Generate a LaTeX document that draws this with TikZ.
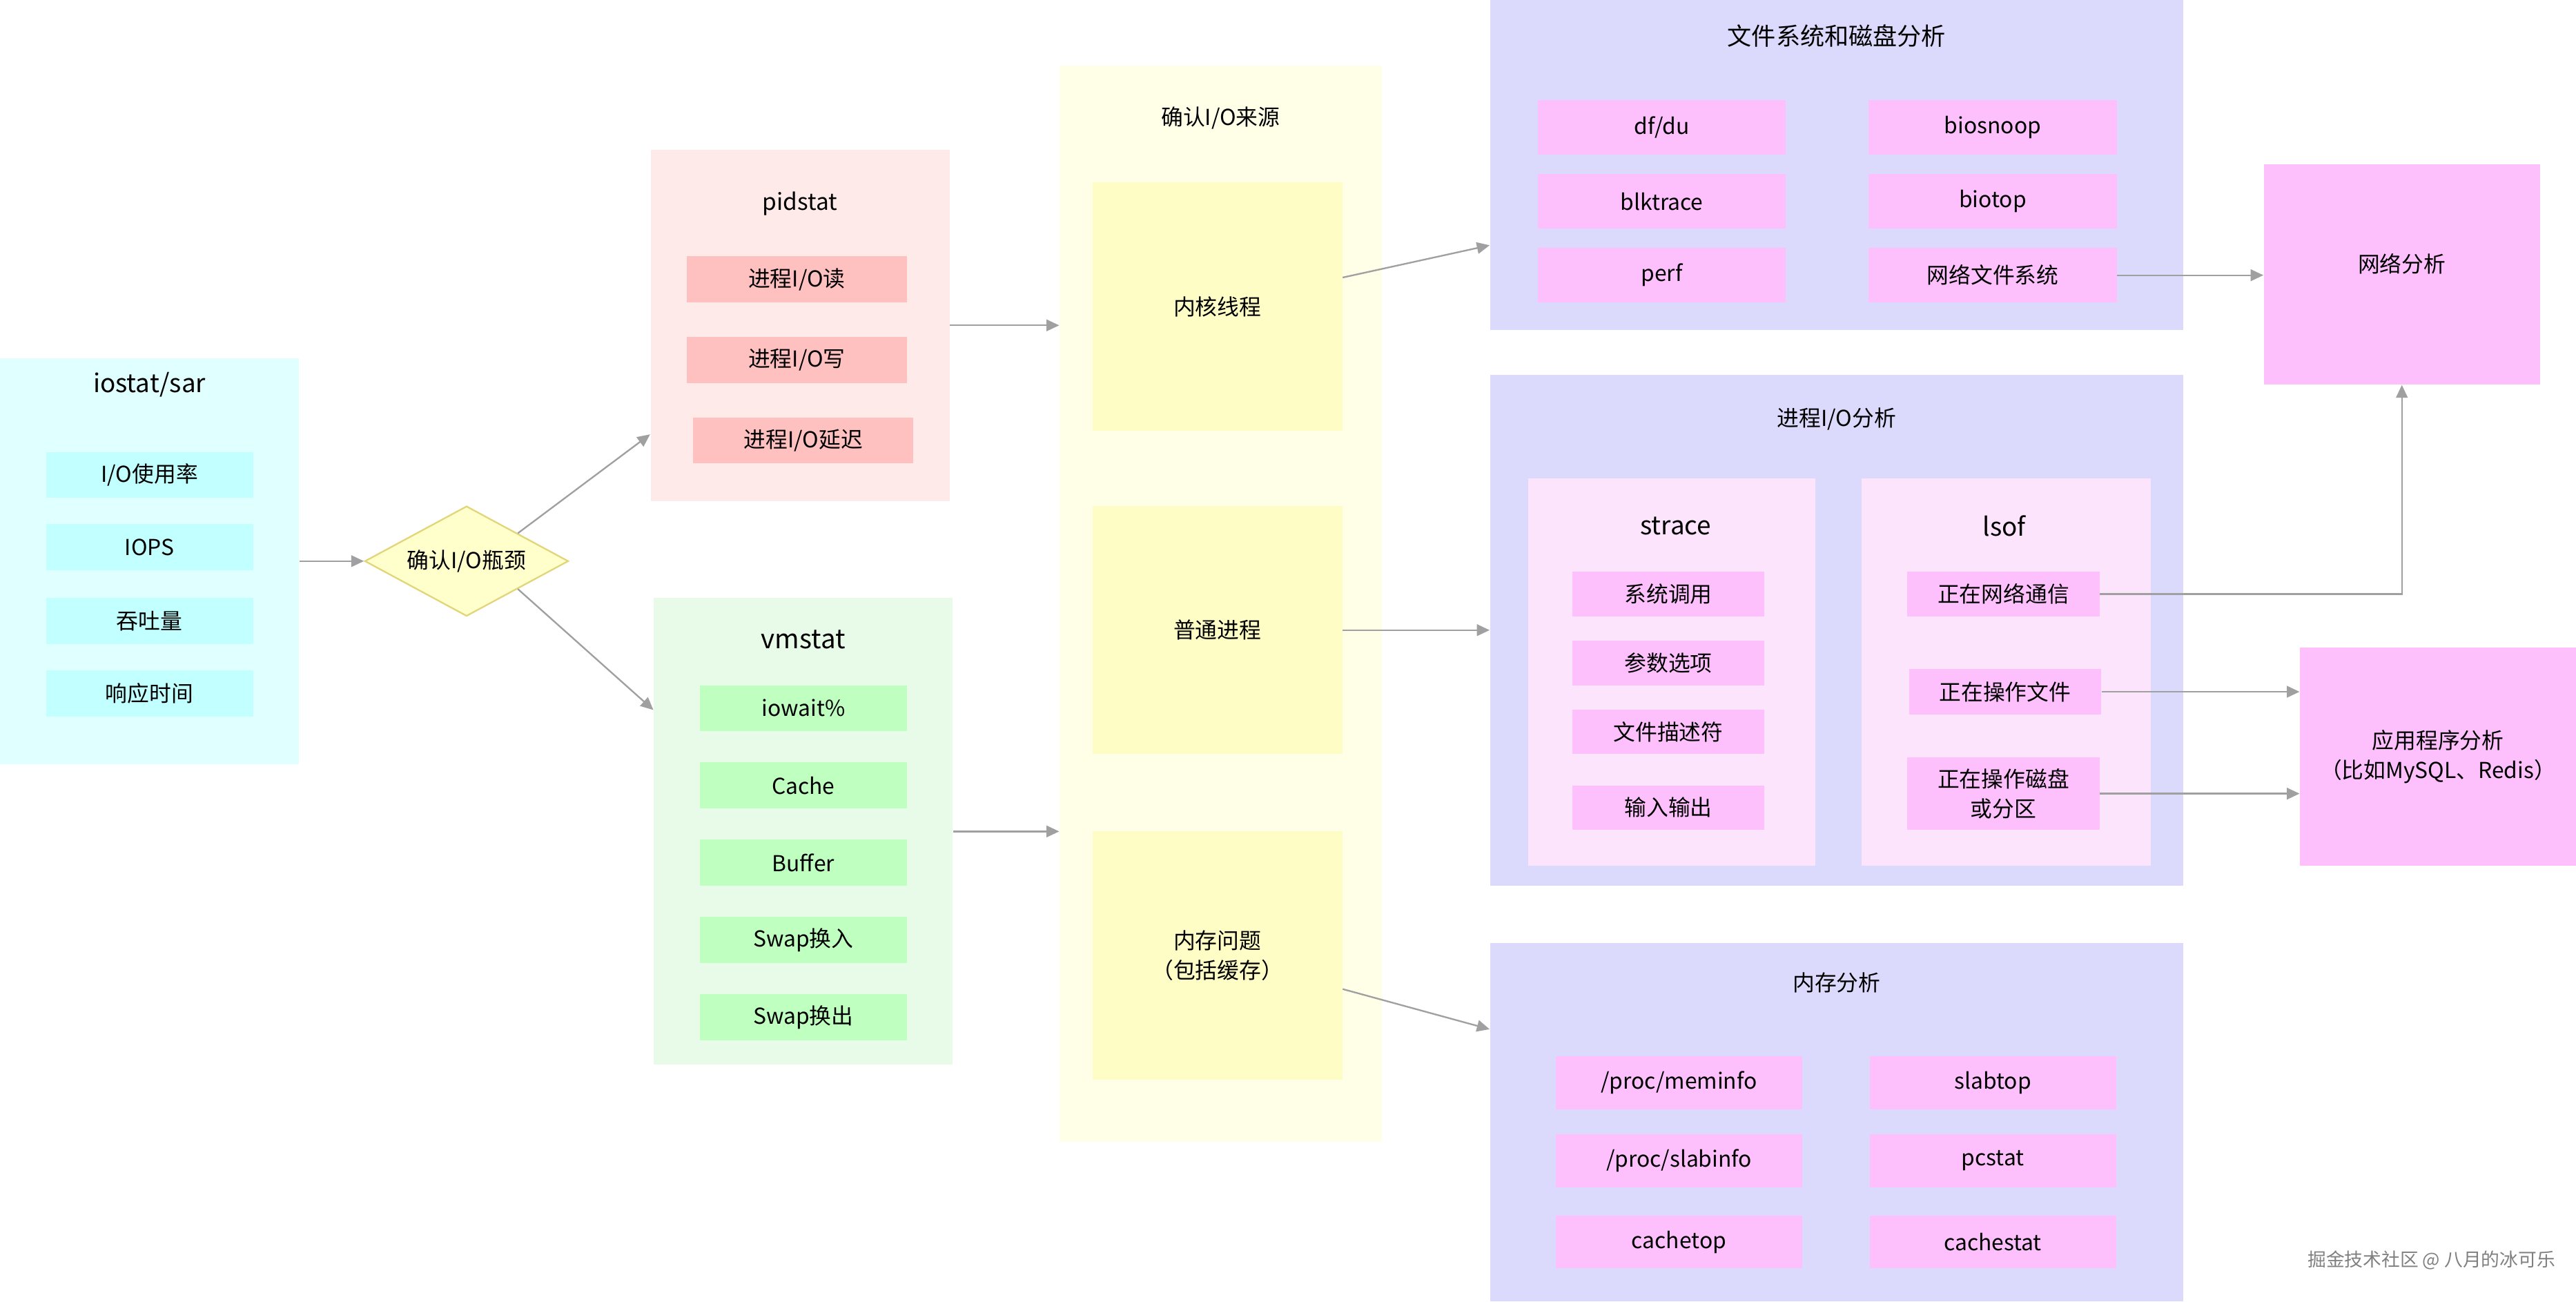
\documentclass[tikz,border=0pt]{standalone}
\usepackage{fontspec}
\setmainfont{Noto Sans CJK SC}
\usetikzlibrary{positioning,shapes.geometric,arrows.meta}

\definecolor{cyanbg}{HTML}{E0FFFF}
\definecolor{cyanit}{HTML}{C2FFFF}
\definecolor{redbg}{HTML}{FFEAEA}
\definecolor{redit}{HTML}{FFC0C0}
\definecolor{greenbg}{HTML}{E8FBE8}
\definecolor{greenit}{HTML}{BFFFBF}
\definecolor{yelbg}{HTML}{FFFFE8}
\definecolor{yelit}{HTML}{FFFDC6}
\definecolor{diamfill}{HTML}{FFFFCC}
\definecolor{diamline}{HTML}{E2D67A}
\definecolor{lavbg}{HTML}{DCDAFC}
\definecolor{pinkbg}{HTML}{FCE4FC}
\definecolor{pinkit}{HTML}{FDC0FD}
\definecolor{arrowgray}{HTML}{A0A0A0}

\tikzset{
	sz/.style 2 args={minimum width=#1*0.025cm, minimum height=#2*0.025cm},
	grp/.style={rectangle, inner sep=0pt},
	box/.style={rectangle, inner sep=0pt, align=center, font=\fontsize{9.5}{12.8}\selectfont},
	ttl/.style={inner sep=0pt, align=center, font=\fontsize{9.5}{12.8}\selectfont},
	bigttl/.style={ttl, font=\fontsize{11}{13}\selectfont},
	link/.style={draw=arrowgray, line width=0.7pt},
}

\begin{document}
\begin{tikzpicture}[x=0.025cm, y=-0.025cm, >={Triangle[length=5.5pt, width=5pt]}]
	\useasboundingbox (0,0) rectangle (1568,792);

	% iostat/sar
	\node [grp, fill=cyanbg, sz={182}{247}] (iostat) at (91,341.5) {};
	\node [bigttl] (iostatt) at (91,234) {iostat/sar};
	\node [box, fill=cyanit, sz={126}{28}] (ioutil) at (91,289) {I/O使用率};
	\node [box, fill=cyanit, sz={126}{28}] (iops) at (91,333) {IOPS};
	\node [box, fill=cyanit, sz={126}{28}] (tput) at (91,378) {吞吐量};
	\node [box, fill=cyanit, sz={126}{28}] (rtime) at (91,422) {响应时间};

	% bottleneck
	\node [diamond, aspect=1.85, draw=diamline, fill=diamfill, line width=0.7pt, inner sep=0pt,
		sz={124}{67}, font=\fontsize{9.5}{12.8}\selectfont] (bottle) at (284,341.5) {确认I/O瓶颈};

	% pidstat
	\node [grp, fill=redbg, sz={182}{214}] (pidstat) at (487,198) {};
	\node [ttl, font=\fontsize{10}{12.8}\selectfont] (pidstatt) at (487,124) {pidstat};
	\node [box, fill=redit, sz={134}{28}] (prd) at (485,170) {进程I/O读};
	\node [box, fill=redit, sz={134}{28}] (pwr) at (485,219) {进程I/O写};
	\node [box, fill=redit, sz={134}{28}] (plat) at (489,268) {进程I/O延迟};

	% vmstat
	\node [grp, fill=greenbg, sz={182}{284}] (vmstat) at (489,506) {};
	\node [bigttl, font=\fontsize{11.5}{13}\selectfont] (vmstatt) at (489,389) {vmstat};
	\node [box, fill=greenit, sz={126}{28}] (iowait) at (489,431) {iowait\%};
	\node [box, fill=greenit, sz={126}{28}] (cache) at (489,478) {Cache};
	\node [box, fill=greenit, sz={126}{28}] (buffer) at (489,525) {Buffer};
	\node [box, fill=greenit, sz={126}{28}] (swapin) at (489,572) {Swap换入};
	\node [box, fill=greenit, sz={126}{28}] (swapout) at (489,619) {Swap换出};

	% source
	\node [grp, fill=yelbg, sz={196}{655}] (src) at (743,367.5) {};
	\node [ttl] (srct) at (743,72) {确认I/O来源};
	\node [box, fill=yelit, sz={152}{151}] (kern) at (741,186.5) {内核线程};
	\node [box, fill=yelit, sz={152}{151}] (norm) at (741,383.5) {普通进程};
	\node [box, fill=yelit, sz={152}{151}] (memq) at (741,581.5) {内存问题\\（包括缓存）};

	% file system and disk
	\node [grp, fill=lavbg, sz={422}{201}] (fs) at (1118,100.5) {};
	\node [ttl, font=\fontsize{10.5}{12.8}\selectfont] (fst) at (1118,22) {文件系统和磁盘分析};
	\node [box, fill=pinkit, sz={151}{33}] (dfdu) at (1011.5,77.5) {df/du};
	\node [box, fill=pinkit, sz={151}{33}] (biosnoop) at (1213,77.5) {biosnoop};
	\node [box, fill=pinkit, sz={151}{33}] (blktrace) at (1011.5,122.5) {blktrace};
	\node [box, fill=pinkit, sz={151}{33}] (biotop) at (1213,122.5) {biotop};
	\node [box, fill=pinkit, sz={151}{33}] (perf) at (1011.5,167.5) {perf};
	\node [box, fill=pinkit, sz={151}{33}] (nfs) at (1213,167.5) {网络文件系统};

	% network
	\node [box, fill=pinkit, sz={168}{134}] (netana) at (1462,167) {\raisebox{0.35cm}{网络分析}};

	% process I/O
	\node [grp, fill=lavbg, sz={422}{311}] (proc) at (1118,383.5) {};
	\node [ttl] (proct) at (1118,255) {进程I/O分析};
	\node [grp, fill=pinkbg, sz={175}{236}] (strace) at (1017.5,409) {};
	\node [bigttl] (stracet) at (1020,320) {strace};
	\node [box, fill=pinkit, sz={117}{27}] (syscall) at (1015.5,361.5) {系统调用};
	\node [box, fill=pinkit, sz={117}{27}] (args) at (1015.5,403.5) {参数选项};
	\node [box, fill=pinkit, sz={117}{27}] (fdesc) at (1015.5,445.5) {文件描述符};
	\node [box, fill=pinkit, sz={117}{27}] (inout) at (1015.5,491.5) {输入输出};
	\node [grp, fill=pinkbg, sz={176}{236}] (lsof) at (1221,409) {};
	\node [bigttl] (lsoft) at (1220,320) {lsof};
	\node [box, fill=pinkit, sz={117}{27}] (netcom) at (1219.5,361.5) {正在网络通信};
	\node [box, fill=pinkit, sz={117}{28}] (fileop) at (1220.5,421) {正在操作文件};
	\node [box, fill=pinkit, sz={117}{44}] (diskop) at (1219.5,483) {正在操作磁盘\\或分区};

	% application
	\node [box, fill=pinkit, sz={168}{133}] (app) at (1484,460.5) {应用程序分析\\（比如MySQL、Redis）};

	% memory
	\node [grp, fill=lavbg, sz={422}{218}] (memg) at (1118,683) {};
	\node [ttl] (memgt) at (1118,598) {内存分析};
	\node [box, fill=pinkit, sz={150}{32}] (meminfo) at (1022,659) {/proc/meminfo};
	\node [box, fill=pinkit, sz={150}{32}] (slabtop) at (1213,659) {slabtop};
	\node [box, fill=pinkit, sz={150}{32}] (slabinfo) at (1022,706.5) {/proc/slabinfo};
	\node [box, fill=pinkit, sz={150}{32}] (pcstat) at (1213,706.5) {pcstat};
	\node [box, fill=pinkit, sz={150}{32}] (cachetop) at (1022,756) {cachetop};
	\node [box, fill=pinkit, sz={150}{32}] (cachestat) at (1213,756) {cachestat};

	\node [text=gray, font=\fontsize{8}{10}\selectfont, inner sep=0pt] (mark) at (1480,767) {掘金技术社区 @ 八月的冰可乐};

	% arrows
	\draw [link] [->] (iostat.east) -- (bottle.west);
	\draw [link] [->] (bottle.north east) -- (pidstat.216);
	\draw [link] [->] (bottle.south east) -- (vmstat.141);
	\draw [link] [->] (pidstat.east) -- (pidstat.east -| src.west);
	\draw [link] [->] (vmstat.east) -- (vmstat.east -| src.west);
	\draw [link] [->] (kern.13) -- (fs.193);
	\draw [link] [->] (norm.east) -- (proc.west);
	\draw [link] [->] (memq.345) -- (memg.165);
	\draw [link] [->] (nfs.east) -- (nfs.east -| netana.west);
	\draw [link] [->] (netcom.east) -| (netana.south);
	\draw [link] [->] (fileop.east) -- (fileop.east -| app.west);
	\draw [link] [->] (diskop.east) -- (diskop.east -| app.west);
\end{tikzpicture}
\end{document}
